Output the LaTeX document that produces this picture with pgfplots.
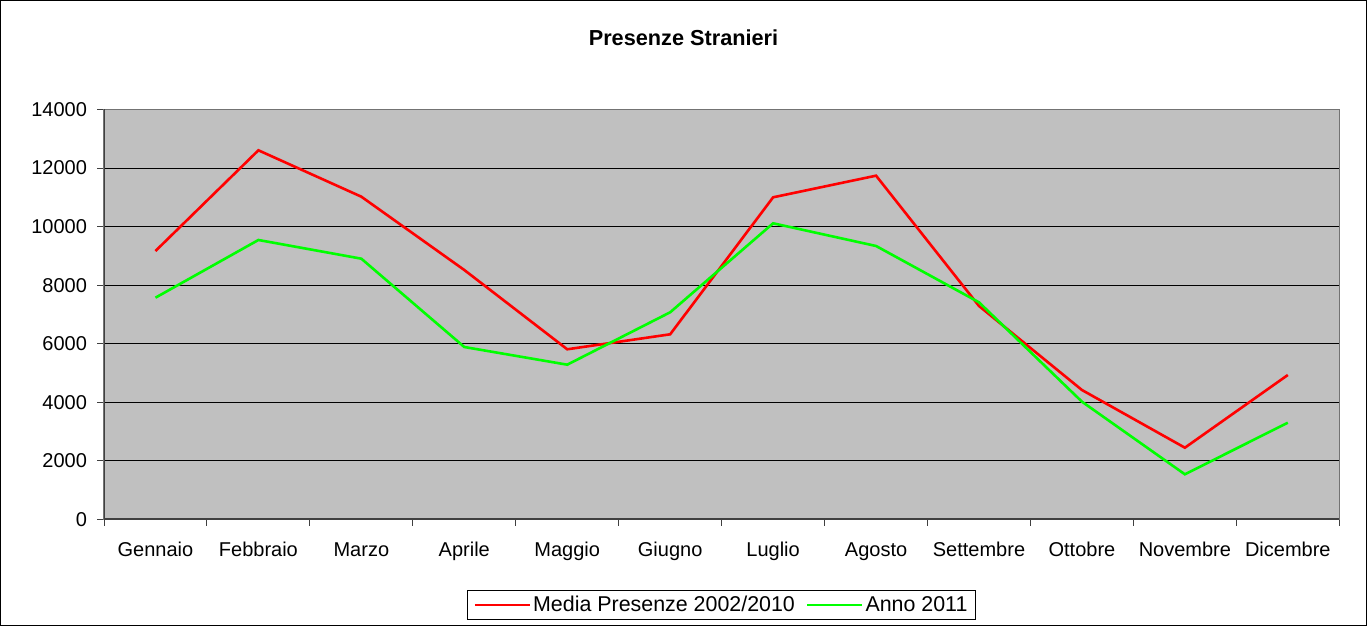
\documentclass[border=0pt]{standalone}
\usepackage{pgfplots}
\pgfplotsset{compat=1.18}
\usepackage{fontspec}
\setmainfont{Liberation Sans}
\definecolor{plotgrey}{HTML}{C0C0C0}
\definecolor{myred}{HTML}{FF0000}
\definecolor{mygreen}{HTML}{00FF00}
\begin{document}
\begin{tikzpicture}
\useasboundingbox (0pt,0pt) rectangle (1367pt,626pt);
\draw[black, line width=1pt] (0.5pt,0.5pt) rectangle (1366.5pt,625.5pt);
\node[font=\fontsize{21.7}{25}\selectfont\bfseries] at (683.5pt,588pt) {Presenze Stranieri};
\begin{axis}[
  at={(104pt,106.7pt)}, anchor=south west,
  scale only axis, width=1235.3pt, height=409.8pt,
  xmin=0, xmax=12, ymin=0, ymax=14000,
  axis background/.style={fill=plotgrey},
  axis line style={draw=gray!90!black, line width=1.2pt},
  xtick={0,1,...,12},
  xticklabels={Gennaio,Febbraio,Marzo,Aprile,Maggio,Giugno,Luglio,Agosto,Settembre,Ottobre,Novembre,Dicembre},
  x tick label as interval=true,
  ytick={0,2000,...,14000},
  scaled y ticks=false,
  /pgf/number format/fixed,
  /pgf/number format/1000 sep={},
  /pgf/number format/assume math mode=true,
  tick pos=left,
  tick align=outside,
  major tick length=6.5pt,
  tick style={black!75, line width=1pt},
  ymajorgrids=true,
  major grid style={black, line width=1pt},
  xmajorgrids=false,
  ticklabel style={font=\fontsize{20}{24}\selectfont},
  x tick label style={text height=14.5pt, text depth=4pt, yshift=-13pt},
  y tick label style={xshift=-7pt},
  legend style={at={(0.4999,-0.209)}, anchor=center, draw=black, line width=0.8pt,
    legend columns=-1, font=\fontsize{21.4}{25}\selectfont,
    /tikz/every even column/.append style={column sep=9pt},
    /tikz/every odd column/.append style={column sep=0pt},
    inner xsep=6pt, inner ysep=4pt},
  legend image code/.code={\draw[#1] (0pt,0pt) -- (55pt,0pt);},
]
\addplot[myred, line width=2.6pt] coordinates {
(0.5,9166) (1.5,12606) (2.5,11021) (3.5,8517) (4.5,5808) (5.5,6320)
(6.5,11000) (7.5,11739) (8.5,7287) (9.5,4417) (10.5,2446) (11.5,4930)};
\addlegendentry{Media Presenze 2002/2010}
\addplot[mygreen, line width=2.6pt] coordinates {
(0.5,7571) (1.5,9542) (2.5,8903) (3.5,5886) (4.5,5282) (5.5,7072)
(6.5,10112) (7.5,9337) (8.5,7413) (9.5,4018) (10.5,1537) (11.5,3300)};
\addlegendentry{Anno 2011}
\draw[black!75, line width=2pt] (rel axis cs:0,1) -- (rel axis cs:0,0) -- (rel axis cs:1,0);
\end{axis}
\end{tikzpicture}
\end{document}
